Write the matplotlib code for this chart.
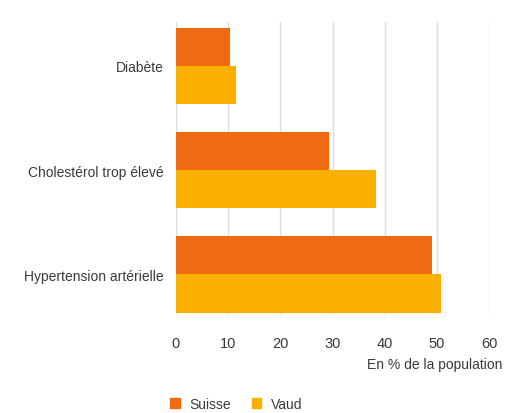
import matplotlib
matplotlib.use("Agg")
import matplotlib.pyplot as plt
from matplotlib.patches import Patch
from matplotlib import font_manager

categories = ["Diabète", "Cholestérol trop élevé", "Hypertension artérielle"]
suisse = [10.3, 29.3, 49.0]
vaud = [11.5, 38.3, 50.8]
xticks = [0, 10, 20, 30, 40, 50, 60]
series_names = ["Suisse", "Vaud"]

names = {f.name for f in font_manager.fontManager.ttflist}
fam = "Liberation Sans Narrow" if "Liberation Sans Narrow" in names else "Liberation Sans"
plt.rcParams['font.family'] = [fam, 'DejaVu Sans']

c_suisse = "#EF6A10"
c_vaud = "#F9B000"
txt = "#3a3a3a"

fig = plt.figure(figsize=(5.19, 4.14), dpi=100)
ax = fig.add_axes([176/519, 1 - 315/414, 313/519, 292/414])

h = 0.365
y = list(range(len(categories)))
ax.barh([v - h/2 for v in y], suisse, height=h, color=c_suisse, zorder=2)
ax.barh([v + h/2 for v in y], vaud, height=h, color=c_vaud, zorder=2)

ax.set_xlim(0, 60)
ax.set_ylim(2.379, -0.422)
ax.set_xticks(xticks)
ax.set_xticklabels([str(t) for t in xticks], fontsize=10.5, color=txt)
ax.set_yticks(y)
ax.set_yticklabels(categories, fontsize=10, color=txt)
ax.tick_params(axis='x', length=0, pad=16)
ax.tick_params(axis='y', length=0, pad=9)
ax.grid(axis='x', color='#dddddd', linewidth=1, zorder=0)
for s in ax.spines.values():
    s.set_visible(False)

fig.text(502/519, 1 - 365/414, "En % de la population", ha='right', va='center',
         fontsize=10, color=txt)

handles = [Patch(color=c_suisse), Patch(color=c_vaud)]
fig.legend(handles, series_names, loc='center left', bbox_to_anchor=(167/519, 1 - 405/414),
           ncol=2, frameon=False, fontsize=10, handlelength=0.7, handleheight=0.7,
           handletextpad=0.7, columnspacing=1.5, labelcolor=txt, borderaxespad=0,
           borderpad=0.2)

fig.savefig("out.png", dpi=100, facecolor='white')
